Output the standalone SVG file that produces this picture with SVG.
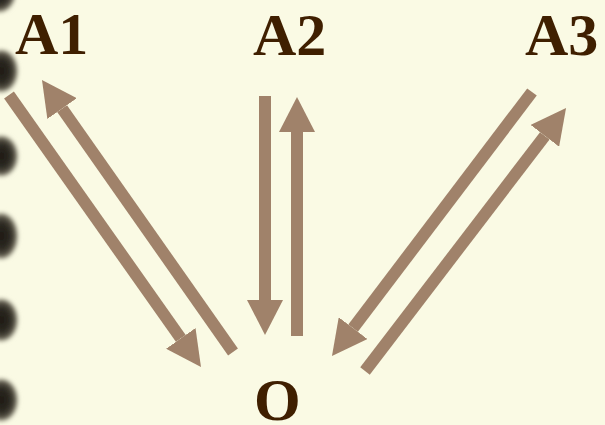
<svg xmlns="http://www.w3.org/2000/svg" width="605" height="425" viewBox="0 0 605 425">
  <style>
    .lbl { font-family: "Liberation Serif", "Times New Roman", serif; font-weight: bold; font-size: 60px; fill: #3f1f00; }
    .arr { stroke: #a0826a; stroke-width: 12; fill: none; marker-end: url(#head); }
    .hole { fill: url(#holeGrad); filter: url(#soft); }
  </style>
  <defs>
    <marker id="head" viewBox="0 0 35 36" markerWidth="35" markerHeight="36" markerUnits="userSpaceOnUse" refX="0" refY="18" orient="auto">
      <path d="M0,0 L35,18 L0,36 Z" fill="#a0826a"/>
    </marker>
    <radialGradient id="holeGrad" cx="0.45" cy="0.5" r="0.5">
      <stop offset="0" stop-color="#1e1a14"/>
      <stop offset="0.55" stop-color="#2e2b24"/>
      <stop offset="0.85" stop-color="#6b6656"/>
      <stop offset="1" stop-color="#faf9e4" stop-opacity="0"/>
    </radialGradient>
    <filter id="soft" x="-50%" y="-50%" width="200%" height="200%">
      <feGaussianBlur stdDeviation="2"/>
    </filter>
  </defs>
  <rect width="605" height="425" fill="#fafae4"/>
  <g id="holes">
    <ellipse class="hole" cx="1" cy="-8" rx="18" ry="22"/>
    <ellipse class="hole" cx="3" cy="71" rx="18" ry="23"/>
    <ellipse class="hole" cx="3" cy="156" rx="18" ry="22"/>
    <ellipse class="hole" cx="3" cy="236" rx="18" ry="25"/>
    <ellipse class="hole" cx="3" cy="320" rx="18" ry="23"/>
    <ellipse class="hole" cx="3" cy="400" rx="18" ry="23"/>
  </g>
  <g id="connectors">
    <line class="arr" x1="9" y1="95" x2="180.8" y2="338.4"/>
    <line class="arr" x1="233" y1="352" x2="62.1" y2="108.6"/>
    <line class="arr" x1="265" y1="96" x2="265" y2="300"/>
    <line class="arr" x1="297" y1="336" x2="297" y2="132"/>
    <line class="arr" x1="532" y1="92" x2="353.1" y2="328.1"/>
    <line class="arr" x1="365" y1="371" x2="544.8" y2="135.8"/>
  </g>
  <g id="A1"><text class="lbl" x="15" y="54">A1</text></g>
  <g id="A2"><text class="lbl" x="253" y="55">A2</text></g>
  <g id="A3"><text class="lbl" x="525" y="55">A3</text></g>
  <g id="O"><text class="lbl" x="254" y="420">O</text></g>
</svg>
